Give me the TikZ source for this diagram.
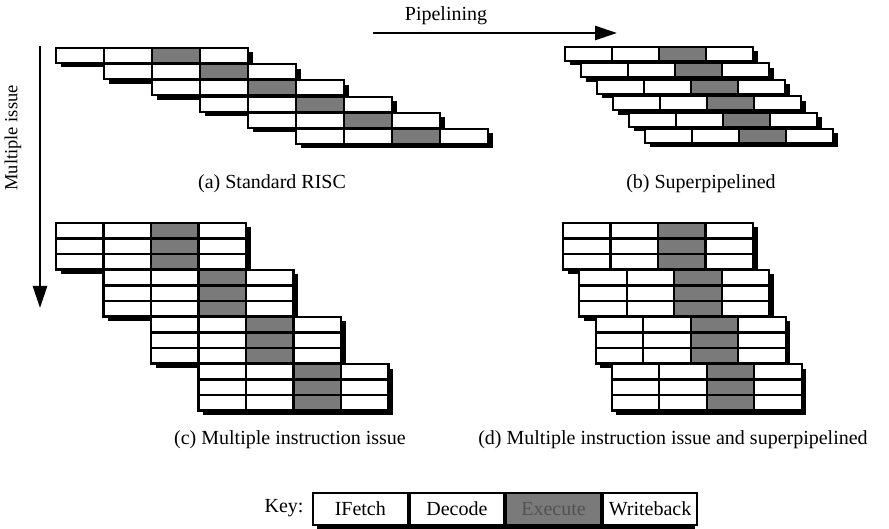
\documentclass[tikz,border=0pt]{standalone}
\usepackage{fontspec}
\setmainfont{Liberation Serif}
\usetikzlibrary{arrows.meta}

% One block of instructions: x, y, cell width, row height, number of rows.
% Each row holds the four stages; the third one (Execute) is shaded.
\newcommand\instrblock[5]{%
  \fill[shade] (#1+4.5,#2+4.5) rectangle ++(4*#3,#5*#4);
  \foreach \ro in {1,...,#5} {
    \foreach \co/\st in {0/cellbox,1/cellbox,2/execbox,3/cellbox} {
      \draw[\st] (#1+\co*#3,#2+\ro*#4-#4) rectangle ++(#3,#4);
    }
  }%
}

\begin{document}
\begin{tikzpicture}[x=1pt,y=-1pt,
  cellbox/.style={draw=black,line width=2.1pt,fill=white},
  execbox/.style={cellbox,fill=black!52},
  shade/.style={fill=black},
  caption/.style={font=\fontsize{20}{23}\selectfont,inner sep=0pt},
  keybox/.style={draw=black,line width=2.1pt,fill=white,minimum width=94.5pt,
    minimum height=32pt,anchor=north west,inner sep=0pt,
    font=\fontsize{20}{23}\selectfont},
  keyexec/.style={keybox,fill=black!52,text=black!68},
  bigarrow/.style={line width=2.8pt,-{Triangle[length=22pt,width=14pt]}}
]
\useasboundingbox (0,0) rectangle (889,529);
\fill[white] (0,0) rectangle (889,529);

% axes
\node[caption] (pipe) at (446,16) {Pipelining};
\coordinate (pipeS) at (373,33);
\coordinate (pipeE) at (617,33);
\draw[bigarrow] (pipeS) -- (pipeE);

\node[caption,rotate=90,font=\fontsize{18.5}{21}\selectfont] (multi) at (13,138) {Multiple issue};
\coordinate (multS) at (40,46);
\coordinate (multE) at (40,308);
\draw[bigarrow] (multS) -- (multE);

% (a) standard RISC
\foreach \i in {0,...,5} {\instrblock{56+48*\i}{48+16.2*\i}{48}{15}{1}}
\node[caption] (capA) at (272,184) {(a) Standard RISC};

% (b) superpipelined
\foreach \i in {0,...,5} {\instrblock{565+16*\i}{47+16.4*\i}{47}{14}{1}}
\node[caption] (capB) at (701,184) {(b) Superpipelined};

% (c) multiple instruction issue
\foreach \i in {0,...,3} {\instrblock{56+47.5*\i}{223+47*\i}{47.5}{15.5}{3}}
\node[caption] (capC) at (290,440) {(c) Multiple instruction issue};

% (d) multiple issue and superpipelined
\foreach \i in {0,...,3} {\instrblock{563+16.3*\i}{223+47*\i}{47.5}{15.5}{3}}
\node[caption] (capD) at (673,440) {(d) Multiple instruction issue and superpipelined};

% key
\node[caption] (keylbl) at (284,508) {Key:};
\fill[shade] (316.5,496.5) rectangle (694.5,528.5);
\node[keybox] (kIF) at (312,492) {IFetch};
\node[keybox] (kDE) at (kIF.north east) {Decode};
\node[keyexec] (kEX) at (kDE.north east) {Execute};
\node[keybox] (kWB) at (kEX.north east) {Writeback};
\end{tikzpicture}
\end{document}
